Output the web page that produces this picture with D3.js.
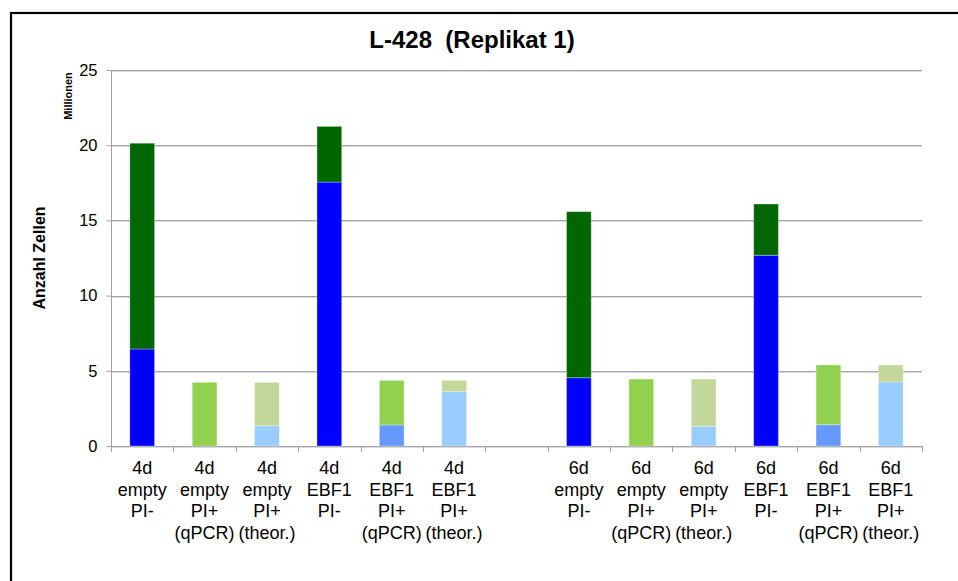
<!DOCTYPE html>
<html>
<head>
<meta charset="utf-8">
<script src="https://cdn.jsdelivr.net/npm/d3@7"></script>
<style>
  html, body { margin: 0; padding: 0; background: #fff; }
  svg { display: block; font-family: "Liberation Sans", Arial, sans-serif; }
</style>
</head>
<body>
<svg id="chart" width="958" height="581"></svg>
<script>
// Categories (one empty slot separates the 4d and 6d groups)
const categories = [
  ["4d", "empty", "PI-"],
  ["4d", "empty", "PI+", "(qPCR)"],
  ["4d", "empty", "PI+", "(theor.)"],
  ["4d", "EBF1", "PI-"],
  ["4d", "EBF1", "PI+", "(qPCR)"],
  ["4d", "EBF1", "PI+", "(theor.)"],
  [],
  ["6d", "empty", "PI-"],
  ["6d", "empty", "PI+", "(qPCR)"],
  ["6d", "empty", "PI+", "(theor.)"],
  ["6d", "EBF1", "PI-"],
  ["6d", "EBF1", "PI+", "(qPCR)"],
  ["6d", "EBF1", "PI+", "(theor.)"]
];

// Stacked segments, in millions of cells
const piNegLower  = [6.45, 0, 0, 17.55, 0, 0, 0, 4.54, 0, 0, 12.68, 0, 0];
const qpcrLower   = [0, 0, 0, 0, 1.40, 0, 0, 0, 0, 0, 0, 1.42, 0];
const theorLower  = [0, 0, 1.35, 0, 0, 3.61, 0, 0, 0, 1.31, 0, 0, 4.26];
const piNegUpper  = [13.68, 0, 0, 3.70, 0, 0, 0, 11.04, 0, 0, 3.41, 0, 0];
const qpcrUpper   = [0, 4.23, 0, 0, 2.96, 0, 0, 0, 4.45, 0, 0, 3.97, 0];
const theorUpper  = [0, 0, 2.88, 0, 0, 0.75, 0, 0, 0, 3.14, 0, 0, 1.13];

const yTicks = [0, 5, 10, 15, 20, 25];

const seriesList = [
  { key: "piNegLower", values: piNegLower, color: "#0000FF" },
  { key: "qpcrLower",  values: qpcrLower,  color: "#6699FF" },
  { key: "theorLower", values: theorLower, color: "#99CCFF" },
  { key: "piNegUpper", values: piNegUpper, color: "#006600" },
  { key: "qpcrUpper",  values: qpcrUpper,  color: "#92D050" },
  { key: "theorUpper", values: theorUpper, color: "#C4D79B" }
];

const svg = d3.select("#chart");
const plotLeft = 111, plotRight = 922, plotTop = 70, plotBottom = 446;

const x = d3.scaleBand().domain(d3.range(categories.length)).range([plotLeft, plotRight]).padding(0);
const y = d3.scaleLinear().domain([0, 25]).range([plotBottom, plotTop]);
const barW = x.bandwidth() * 0.396;

// Outer frame
svg.append("rect")
  .attr("x", 11).attr("y", 13)
  .attr("width", 1000).attr("height", 700)
  .attr("fill", "none").attr("stroke", "#000").attr("stroke-width", 2.2);

// Title
svg.append("text")
  .attr("x", 472).attr("y", 48)
  .attr("text-anchor", "middle")
  .attr("font-size", 24).attr("font-weight", "bold")
  .attr("xml:space", "preserve")
  .text("L-428  (Replikat 1)");

// Gridlines (two-tone)
const grid = svg.append("g");
yTicks.forEach(t => {
  grid.append("line")
    .attr("x1", plotLeft).attr("x2", plotRight)
    .attr("y1", Math.round(y(t)) + 0.5).attr("y2", Math.round(y(t)) + 0.5)
    .attr("stroke", "#A6A6A6");
  grid.append("line")
    .attr("x1", plotLeft).attr("x2", plotRight)
    .attr("y1", Math.round(y(t)) + 1.5).attr("y2", Math.round(y(t)) + 1.5)
    .attr("stroke", "#DADADA");
});

// Stacked bars
const rows = categories.map((c, i) => {
  const r = { idx: i };
  seriesList.forEach(s => { r[s.key] = s.values[i]; });
  return r;
});
const stacked = d3.stack().keys(seriesList.map(s => s.key))(rows);

svg.append("g").selectAll("g")
  .data(stacked)
  .join("g")
  .attr("fill", (d, i) => seriesList[i].color)
  .selectAll("rect")
  .data(d => d.filter(p => p[1] - p[0] > 0))
  .join("rect")
  .attr("x", p => x(p.data.idx) + (x.bandwidth() - barW) / 2)
  .attr("width", barW)
  .attr("y", p => y(p[1]))
  .attr("height", p => y(p[0]) - y(p[1]))
  .attr("stroke", "rgba(255,255,255,0.3)")
  .attr("stroke-width", 1);

// Y axis
const yAxis = d3.axisLeft(y).tickValues(yTicks).tickSize(5).tickPadding(9);
const yg = svg.append("g").attr("transform", `translate(${plotLeft + 0.5},0)`).call(yAxis);
yg.select(".domain").attr("stroke", "#A0A0A0").attr("d", `M0,${plotTop}V${plotBottom + 6}`);
yg.selectAll(".tick line").attr("stroke", "#A0A0A0");
yg.selectAll(".tick text").attr("font-size", 16.5).attr("fill", "#000")
  .attr("font-family", "'Liberation Sans', Arial, sans-serif");

// X axis: tick marks at category boundaries
const boundaries = d3.range(categories.length + 1).map(i => plotLeft + i * x.step());
svg.append("g").selectAll("line")
  .data(boundaries)
  .join("line")
  .attr("x1", d => Math.round(d) + 0.5).attr("x2", d => Math.round(d) + 0.5)
  .attr("y1", plotBottom).attr("y2", plotBottom + 6)
  .attr("stroke", "#A0A0A0");

// Category labels
const lab = svg.append("g").attr("font-size", 18).attr("text-anchor", "middle").attr("fill", "#000");
categories.forEach((lines, i) => {
  const cx = x(i) + x.bandwidth() / 2;
  const t = lab.append("text").attr("x", cx).attr("y", 474);
  lines.forEach((ln, k) => {
    t.append("tspan").attr("x", cx).attr("y", 474 + k * 21.6).text(ln);
  });
});

// Axis titles
svg.append("text")
  .attr("transform", "translate(45,258) rotate(-90)")
  .attr("text-anchor", "middle")
  .attr("font-size", 16).attr("font-weight", "bold")
  .text("Anzahl Zellen");

svg.append("text")
  .attr("transform", "translate(72,96) rotate(-90)")
  .attr("text-anchor", "middle")
  .attr("font-size", 11).attr("font-weight", "bold")
  .text("Millionen");
</script>
</body>
</html>
